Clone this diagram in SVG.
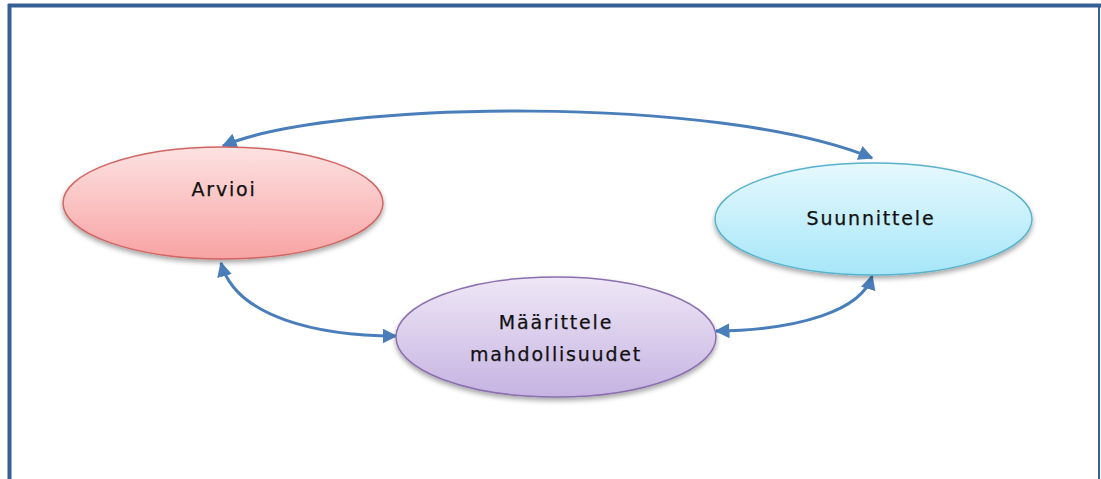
<svg xmlns="http://www.w3.org/2000/svg" width="1101" height="479" viewBox="0 0 1101 479">
  <style>
    .lbl { font-family: "DejaVu Sans", "Liberation Sans", sans-serif; font-size: 19px; fill: #111111; text-anchor: middle; letter-spacing: 1.8px; stroke: #111111; stroke-width: 0.25; }
    .conn { fill: none; stroke: #4a7ebb; stroke-width: 3; }
    .frame { stroke: #375f93; }
  </style>
  <defs>
    <linearGradient id="gRed" x1="0" y1="0" x2="0" y2="1">
      <stop offset="0" stop-color="#fde2e2"/>
      <stop offset="1" stop-color="#f8a3a3"/>
    </linearGradient>
    <linearGradient id="gBlue" x1="0" y1="0" x2="0" y2="1">
      <stop offset="0" stop-color="#e6f9fe"/>
      <stop offset="1" stop-color="#a6e6f8"/>
    </linearGradient>
    <linearGradient id="gPurple" x1="0" y1="0" x2="0" y2="1">
      <stop offset="0" stop-color="#eee7f6"/>
      <stop offset="1" stop-color="#c6b3e2"/>
    </linearGradient>
    <filter id="shadow" x="-10%" y="-10%" width="120%" height="130%">
      <feDropShadow dx="0" dy="3" stdDeviation="2.5" flood-color="#000" flood-opacity="0.35"/>
    </filter>
    <marker id="arrow" viewBox="0 0 10 10" refX="9" refY="5" markerWidth="5" markerHeight="5" orient="auto-start-reverse" markerUnits="strokeWidth">
      <path d="M0,0 L10,5 L0,10 z" fill="#4a7ebb"/>
    </marker>
  </defs>

  <rect width="1101" height="479" fill="#ffffff"/>

  <!-- outer frame: open at the bottom -->
  <g id="frame" fill="none">
    <line class="frame" x1="9.5" y1="4" x2="9.5" y2="479" stroke-width="4"/>
    <line class="frame" x1="8" y1="5.5" x2="1101" y2="5.5" stroke-width="4"/>
    <line class="frame" x1="1099" y1="4" x2="1099" y2="479" stroke-width="2"/>
  </g>

  <g id="connectors">
    <path class="conn" d="M223,146 C330,100 720,95 872,158" marker-start="url(#arrow)" marker-end="url(#arrow)"/>
    <path class="conn" d="M221,263 C236,318 320,336 396,336" marker-start="url(#arrow)" marker-end="url(#arrow)"/>
    <path class="conn" d="M716,331 C800,330 862,310 872,276" marker-start="url(#arrow)" marker-end="url(#arrow)"/>
  </g>

  <g id="node-arvioi">
    <ellipse cx="223" cy="203" rx="160" ry="56" fill="url(#gRed)" stroke="#cf6663" stroke-width="1.5" filter="url(#shadow)"/>
    <text class="lbl" x="224" y="196">Arvioi</text>
  </g>

  <g id="node-suunnittele">
    <ellipse cx="873.5" cy="219" rx="158.5" ry="56" fill="url(#gBlue)" stroke="#5ab3cc" stroke-width="1.5" filter="url(#shadow)"/>
    <text class="lbl" x="871" y="225">Suunnittele</text>
  </g>

  <g id="node-maarittele">
    <ellipse cx="556" cy="337" rx="160" ry="60" fill="url(#gPurple)" stroke="#8b6fae" stroke-width="1.5" filter="url(#shadow)"/>
    <text class="lbl" x="556" y="329">Määrittele</text>
    <text class="lbl" x="556" y="361">mahdollisuudet</text>
  </g>
</svg>
